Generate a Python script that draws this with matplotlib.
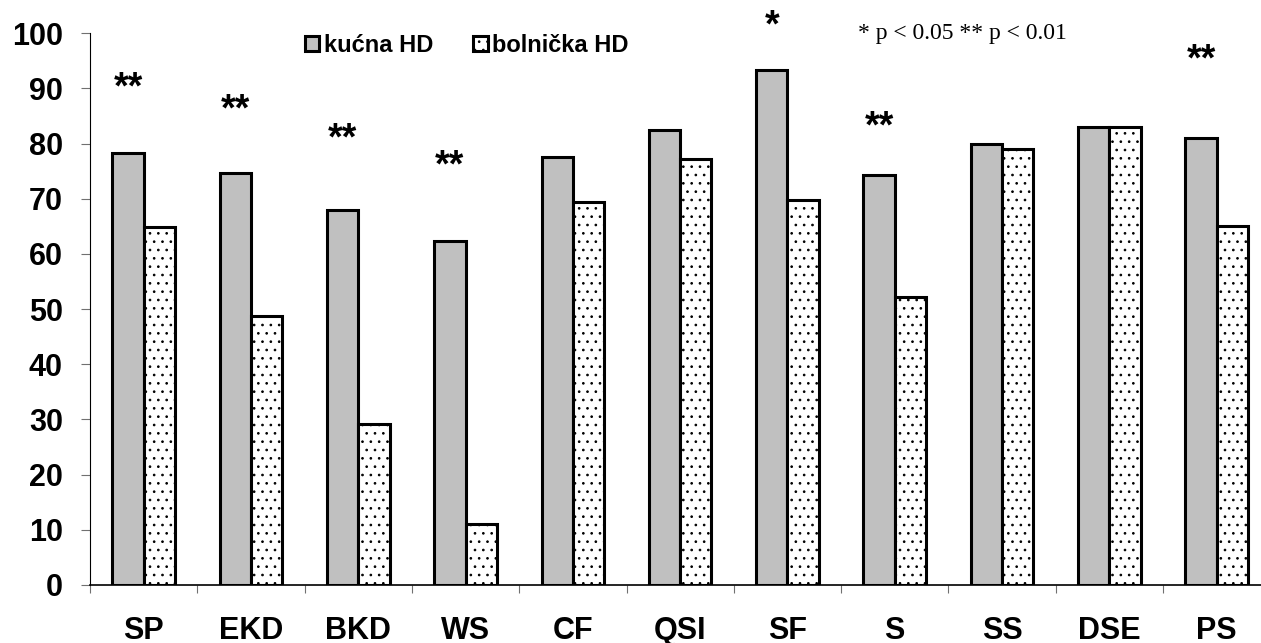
import numpy as np
import matplotlib.pyplot as plt

# data
categories = ['SP', 'EKD', 'BKD', 'WS', 'CF', 'QSI', 'SF', 'S', 'SS', 'DSE', 'PS']
kucna = [78.3, 74.7, 68.0, 62.3, 77.5, 82.5, 93.4, 74.4, 79.9, 83.0, 81.0]
bolnicka = [64.8, 48.8, 29.1, 11.1, 69.5, 77.3, 69.7, 52.2, 79.0, 83.0, 65.0]
series_names = ['kućna HD', 'bolnička HD']
yticks = list(range(0, 101, 10))

# significance marks (index of category, mark, height of mark centre)
sig_idx = [0, 1, 2, 3, 6, 7, 10]
sig_mark = ['**', '**', '**', '**', '*', '**', '**']
sig_y = [90.9, 86.8, 81.6, 76.7, 102.0, 83.7, 95.9]
note = '* p < 0.05 ** p < 0.01'

plt.rcParams['hatch.linewidth'] = 0.7

fig = plt.figure(figsize=(12.61, 6.43), dpi=100)
ax = fig.add_axes([90 / 1261, 58 / 643, 1180.3 / 1261, 551.7 / 643])

x = np.arange(len(categories))
w = 0.292
ax.bar(x - w / 2, kucna, w, color='#c0c0c0', edgecolor='black', linewidth=2.2,
       label=series_names[0])
ax.bar(x + w / 2, bolnicka, w, color='white', edgecolor='black', linewidth=2.2,
       hatch='..', label=series_names[1])

ax.set_xlim(-0.5, len(categories) - 0.5)
ax.set_ylim(0, 100)

for s in ['top', 'right']:
    ax.spines[s].set_visible(False)
ax.spines['left'].set_linewidth(0.8)
ax.spines['bottom'].set_linewidth(1.2)

ax.set_yticks(yticks)
ax.set_yticklabels([str(v) for v in yticks], fontsize=22, fontweight='bold',
                   family='Liberation Sans')
ax.tick_params(axis='y', direction='out', length=6.5, width=0.8, color='#707070', pad=13)

ax.set_xticks(x)
ax.set_xticklabels(categories, fontsize=22, fontweight='bold', family='Liberation Sans')
ax.set_xticks(np.arange(len(categories) + 1) - 0.5, minor=True)
ax.tick_params(axis='x', which='major', length=0, pad=22.5)
ax.tick_params(axis='x', which='minor', direction='out', length=6, width=0.8, color='#707070')

for i, m, yv in zip(sig_idx, sig_mark, sig_y):
    ax.annotate(m, xy=(x[i] - w / 2, yv), xytext=(0, -10.5), textcoords='offset points',
                ha='center', va='baseline', fontsize=27, fontweight='bold',
                family='Liberation Sans', annotation_clip=False)

fig.text(858 / 1261, 1 - 39.5 / 643, note, fontsize=17, family='Liberation Serif',
         ha='left', va='baseline')

fig.legend(loc='center left', bbox_to_anchor=(305 / 1261, 1 - 45.5 / 643), ncol=2,
           frameon=False, borderpad=0, borderaxespad=0, handlelength=0.6, handleheight=0.6,
           handletextpad=0.2, columnspacing=1.7,
           prop={'family': 'Liberation Sans', 'weight': 'bold', 'size': 17})

fig.savefig('out.png', dpi=100)
